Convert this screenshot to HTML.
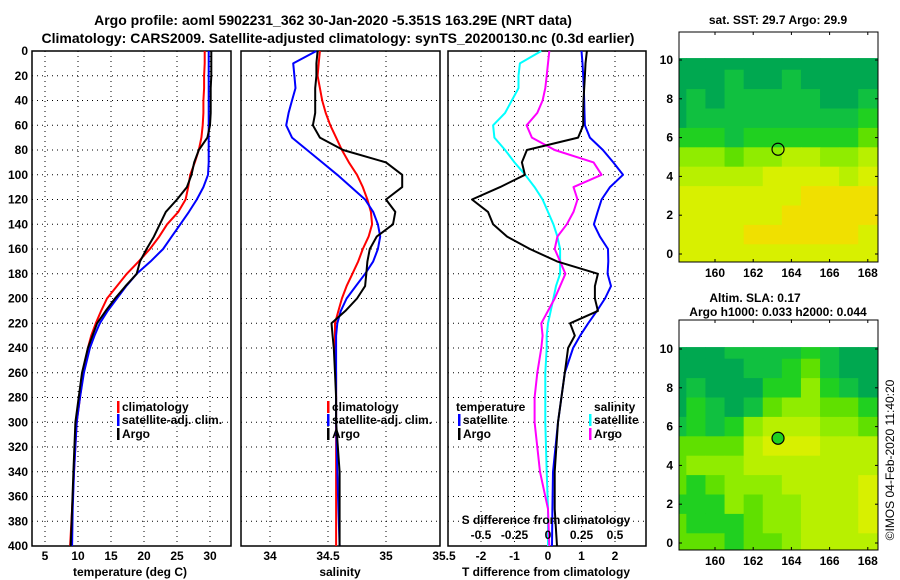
<!DOCTYPE html>
<html><head><meta charset="utf-8"><style>
html,body{margin:0;padding:0;background:#fff;}
svg{display:block;font-family:"Liberation Sans",sans-serif;font-weight:bold;}
</style></head><body>
<svg id="c" width="900" height="580" viewBox="0 0 900 580" xmlns="http://www.w3.org/2000/svg">
<text x="333" y="25" font-size="14" text-anchor="middle">Argo profile: aoml 5902231_362 30-Jan-2020 -5.351S 163.29E (NRT data)</text>
<text x="338" y="43" font-size="14" text-anchor="middle">Climatology: CARS2009. Satellite-adjusted climatology: synTS_20200130.nc (0.3d earlier)</text>
<text x="778" y="24" font-size="12" text-anchor="middle">sat. SST: 29.7 Argo: 29.9</text>
<text x="755" y="302" font-size="12" text-anchor="middle">Altim. SLA: 0.17</text>
<text x="778" y="316" font-size="12" text-anchor="middle">Argo h1000: 0.033 h2000: 0.044</text>
<text transform="translate(894,460) rotate(-90)" font-size="12" font-weight="normal" text-anchor="middle">©IMOS 04-Feb-2020 11:40:20</text>
<g id="g"></g>
</svg>
<script>
// ---- data ----
const depths = [0,10,20,30,40,50,60,70,80,90,100,110,120,130,140,150,160,170,180,190,200,210,220,230,240,260,280,300,340,370,400];
const tempClim = [29.2,29.2,29.1,29.1,29.0,29.0,28.9,28.7,28.3,27.7,27.0,26.7,26.3,25.2,23.5,22.3,20.9,19.2,17.4,15.9,14.4,13.5,12.7,12.0,11.5,10.8,10.3,9.8,9.4,9.1,8.8];
const tempSat = [29.8,29.8,29.8,29.8,29.8,29.8,29.8,29.8,29.8,29.8,29.7,29.0,28.0,26.8,25.5,24.2,22.9,21.0,18.9,17.3,15.9,14.5,13.3,12.5,11.8,10.9,10.3,9.8,9.4,9.2,9.1];
const tempArgo = [30.2,30.2,30.2,30.1,30.1,30.1,30.0,29.6,28.3,27.6,27.2,26.5,25.0,23.3,22.4,21.5,20.4,19.4,18.9,17.2,15.6,14.2,12.9,12.2,11.5,10.6,10.1,9.6,9.3,9.1,8.9];
const salClim = [34.43,34.42,34.41,34.43,34.45,34.48,34.52,34.57,34.62,34.68,34.75,34.80,34.84,34.87,34.88,34.85,34.80,34.76,34.71,34.66,34.62,34.59,34.56,34.56,34.56,34.57,34.57,34.57,34.57,34.57,34.57];
const salSat = [34.40,34.20,34.21,34.22,34.19,34.16,34.14,34.19,34.32,34.45,34.58,34.70,34.82,34.89,34.93,34.95,34.93,34.89,34.82,34.74,34.66,34.61,34.58,34.57,34.57,34.57,34.57,34.57,34.58,34.59,34.60];
const salArgo = [34.41,34.40,34.40,34.39,34.39,34.39,34.37,34.43,34.63,35.00,35.14,35.14,35.00,35.08,35.06,34.92,34.86,34.84,34.83,34.82,34.75,34.65,34.53,34.54,34.55,34.56,34.57,34.57,34.60,34.60,34.60];
const dTArgo = [1.16,1.12,1.10,1.08,1.06,1.05,1.05,0.90,-0.63,-0.78,-0.69,-1.43,-2.27,-1.79,-1.64,-1.22,-0.54,0.27,1.49,1.40,1.40,1.49,0.66,0.80,0.60,0.50,0.40,0.30,0.20,0.20,0.27];
const dTSat = [1.00,1.03,1.05,1.07,1.08,1.09,1.10,1.25,1.64,1.95,2.24,1.85,1.60,1.48,1.37,1.55,1.79,1.80,1.78,1.88,1.70,1.46,1.20,0.96,0.75,0.50,0.40,0.30,0.15,0.13,0.12];
const dSArgo = [0.01,0.00,-0.01,-0.02,-0.04,-0.08,-0.16,-0.12,0.05,0.34,0.40,0.19,0.22,0.19,0.14,0.07,0.05,0.09,0.13,0.09,0.05,0.00,-0.05,-0.04,-0.05,-0.08,-0.10,-0.10,-0.06,0.00,0.01];
const dSSat = [-0.05,-0.21,-0.22,-0.22,-0.27,-0.32,-0.41,-0.40,-0.32,-0.25,-0.17,-0.10,-0.04,0.00,0.04,0.07,0.09,0.09,0.09,0.06,0.04,0.02,0.00,-0.01,-0.01,-0.02,-0.02,-0.02,-0.01,0.00,0.00];
const depthTicks = [0,20,40,60,80,100,120,140,160,180,200,220,240,260,280,300,320,340,360,380,400];
const tempTicks = [5,10,15,20,25,30];
const salTicks = [34,34.5,35,35.5];
const dTTicks = [-2,-1,0,1,2];
const dSTicks = [-0.5,-0.25,0,0.25,0.5];
const mapLons = [158,159,160,161,162,163,164,165,166,167,168];
const mapLats = [10,9,8,7,6,5,4,3,2,1,0];
const sstRows = ["11111111111","11121121111","12122222112","12222222223","33323333334","55545566556","66666777767","77777778888","77777788888","77778888887","77777777777"];
const slaRows = ["11122223211","11112234211","12111335321","13212455443","23235666554","44446777666","45556666666","43455566667","33354556667","43334556667","44434456666"];
const lonTicks = [160,162,164,166,168];
const latTicks = [0,2,4,6,8,10];
const argoLon = 163.3, argoLat = 5.4;

// ---- drawing ----
const NS="http://www.w3.org/2000/svg";
const G=document.getElementById('g');
function mk(tag,attrs,parent){const e=document.createElementNS(NS,tag);for(const k in attrs)e.setAttribute(k,attrs[k]);(parent||G).appendChild(e);return e;}
const yTop=51,yBot=546;
const yD=d=>yTop+(yBot-yTop)*d/400;
function panel(name,x0,x1,xs,ticks,fmt,showY){
  const g=mk('g',{});
  
  
  ticks.forEach(t=>{const x=xs(t);if(x>x0+1&&x<x1-1){const l=mk('line',{x1:x,x2:x,y1:yTop,y2:yBot,stroke:'#000','stroke-width':1,'stroke-dasharray':'1,4'},g);}});
  depthTicks.forEach(d=>{const y=yD(d);if(d>0&&d<400){const l=mk('line',{x1:x0,x2:x1,y1:y,y2:y,stroke:'#000','stroke-width':1,'stroke-dasharray':'1,4'},g);}
    if(showY){const t=mk('text',{x:x0-4,y:y+4,'font-size':12,'text-anchor':'end'},g);t.textContent=d;}});
  if(fmt){ticks.forEach(t=>{const tx=mk('text',{x:xs(t),y:560,'font-size':12,'text-anchor':'middle'},g);tx.textContent=fmt(t);});}
  const r=mk('rect',{x:x0,y:yTop,width:x1-x0,height:yBot-yTop,fill:'none',stroke:'#000','stroke-width':1.5},g);
  
  return g;
}
function line(g,name,vals,xs,color,w){
  const pts=vals.map((v,i)=>xs(v).toFixed(1)+','+yD(depths[i]).toFixed(1)).join(' ');
  const p=mk('polyline',{points:pts,fill:'none',stroke:color,'stroke-width':w||2,'stroke-linejoin':'round'},g);
  
}
function label(g,name,x,y,txt,size,anchor){const t=mk('text',{x:x,y:y,'font-size':size||12,'text-anchor':anchor||'start'},g);t.textContent=txt;return t;}
function legend(g,name,x,y,color,txt){const lg=mk('g',{},g);mk('rect',{x:x,y:y-10,width:2.5,height:12,fill:color},lg);label(lg,'legend-label',x+5,y,txt);}

// Panel 1 temperature
const xT=t=>45+(t-5)*6.6;
const p1=panel('temperature-panel',32,231,xT,tempTicks,t=>t,true);
line(p1,'temp-climatology-line',tempClim,xT,'#f00');
line(p1,'temp-satellite-line',tempSat,xT,'#00f');
line(p1,'temp-argo-line',tempArgo,xT,'#000');
label(p1,'temperature-axis-title',130,576,'temperature (deg C)',12,'middle');
legend(p1,'legend-climatology',117,411,'#f00','climatology');
legend(p1,'legend-satellite-adj',117,424,'#00f','satellite-adj. clim.');
legend(p1,'legend-argo',117,438,'#000','Argo');

// Panel 2 salinity
const xS=s=>270+(s-34)*116;
const p2=panel('salinity-panel',241,440,xS,salTicks,t=>t,false);
line(p2,'sal-climatology-line',salClim,xS,'#f00');
line(p2,'sal-satellite-line',salSat,xS,'#00f');
line(p2,'sal-argo-line',salArgo,xS,'#000');
label(p2,'salinity-axis-title',340,576,'salinity',12,'middle');
legend(p2,'legend-climatology',327,411,'#f00','climatology');
legend(p2,'legend-satellite-adj',327,424,'#00f','satellite-adj. clim.');
legend(p2,'legend-argo',327,438,'#000','Argo');

// Panel 3 differences
const xDT=d=>548+33.5*d;
const xDS=d=>548+134*d;
const p3=panel('difference-panel',448,646,xDT,dTTicks,t=>t,false);
line(p3,'sdiff-satellite-line',dSSat,xDS,'#0ff');
line(p3,'sdiff-argo-line',dSArgo,xDS,'#f0f');
line(p3,'tdiff-satellite-line',dTSat,xDT,'#00f');
line(p3,'tdiff-argo-line',dTArgo,xDT,'#000');
label(p3,'s-diff-axis-title',546,524,'S difference from climatology',12,'middle');
dSTicks.forEach(t=>label(p3,'s-diff-tick-label',xDS(t),539,t,12,'middle'));
label(p3,'t-diff-axis-title',546,576,'T difference from climatology',12,'middle');
label(p3,'legend-temperature-heading',456,411,'temperature');
legend(p3,'legend-tdiff-satellite',458,424,'#00f','satellite');
legend(p3,'legend-tdiff-argo',458,438,'#000','Argo');
label(p3,'legend-salinity-heading',594,411,'salinity');
legend(p3,'legend-sdiff-satellite',589,424,'#0ff','satellite');
legend(p3,'legend-sdiff-argo',589,438,'#f0f','Argo');

// Maps
const cmap=['#008c5a','#00a850','#10c040','#20d020','#60e000','#90ec00','#b8f000','#d8f000','#f0e000','#f0c000'];
function map(name,top,bot,y10,y0,rows,filled){
  const x0=679,x1=878;
  const lx=l=>715+(l-160)*19.1;
  const ly=l=>y0+(y10-y0)*l/10;
  const g=mk('g',{});
  
  const cp='clip-'+name;
  const cpe=mk('clipPath',{id:cp},g);mk('rect',{x:x0,y:top,width:x1-x0,height:bot-top},cpe);
  const cg=mk('g',{'clip-path':'url(#'+cp+')'},g);
  mk('rect',{x:x0,y:top,width:x1-x0,height:bot-top,fill:'#fff'},cg);
  mapLats.forEach((lat,i)=>{mapLons.forEach((lon,j)=>{
    const ya=Math.max(ly(lat+0.5),ly(10.1));const yb=ly(lat-0.5)+(lat===0?10:0);
    const c=mk('rect',{x:lx(lon-0.5),y:ya,width:19.6,height:yb-ya+0.5,fill:cmap[+rows[i][j]]},cg);
    
  });});
  const m=mk('circle',{cx:lx(argoLon),cy:ly(argoLat),r:6,fill:filled?'#20d020':'none',stroke:'#000','stroke-width':1.2},g);
  
  const f=mk('rect',{x:x0,y:top,width:x1-x0,height:bot-top,fill:'none',stroke:'#000','stroke-width':1},g);
  
  lonTicks.forEach(l=>{mk('line',{x1:lx(l),x2:lx(l),y1:top,y2:top+3,stroke:'#000'},g);mk('line',{x1:lx(l),x2:lx(l),y1:bot,y2:bot-3,stroke:'#000'},g);label(g,'lon-tick-label',lx(l),bot+15,l,12,'middle');});
  latTicks.forEach(l=>{mk('line',{x1:x1,x2:x1-3,y1:ly(l),y2:ly(l),stroke:'#000'},g);mk('line',{x1:x0,x2:x0+3,y1:ly(l),y2:ly(l),stroke:'#000'},g);label(g,'lat-tick-label',x0-6,ly(l)+4,l,12,'end');});
}
map('sst-map',32,262,60,254,sstRows,false);
map('sla-map',320,550,349,543,slaRows,true);
</script>
</body></html>
